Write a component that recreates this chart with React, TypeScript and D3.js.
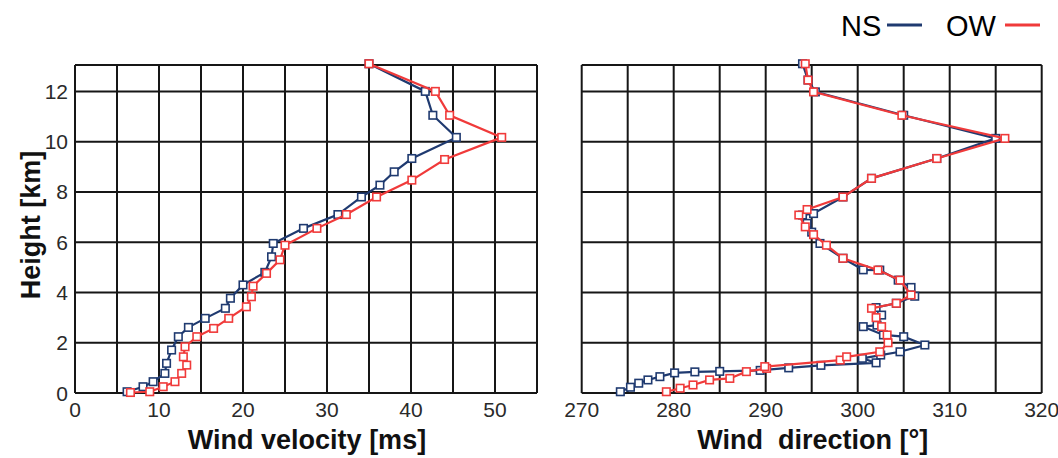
import React, { useEffect, useRef } from "react";
import * as d3 from "d3";

// profile readings: height [km] with the value at that height
const nsVelHeight = [0.05, 0.25, 0.45, 0.78, 1.18, 1.71, 2.24, 2.61, 2.97, 3.37, 3.77, 4.3, 4.8, 5.42, 5.95, 6.55, 7.1, 7.8, 8.27, 8.8, 9.33, 10.17, 11.05, 12.0, 13.1];
const nsVelocity = [6.2, 8.1, 9.3, 10.7, 10.9, 11.5, 12.3, 13.5, 15.5, 17.9, 18.5, 20.0, 22.6, 23.4, 23.6, 27.2, 31.3, 34.1, 36.3, 38.0, 40.1, 45.4, 42.6, 41.7, 35.0];

const owVelHeight = [0.02, 0.05, 0.25, 0.45, 0.78, 1.11, 1.44, 1.84, 2.24, 2.57, 2.97, 3.43, 3.83, 4.25, 4.76, 5.3, 5.88, 6.55, 7.1, 7.8, 8.47, 9.29, 10.17, 11.05, 12.0, 13.1];
const owVelocity = [6.6, 8.9, 10.5, 11.9, 12.7, 13.3, 12.9, 13.1, 14.5, 16.5, 18.3, 20.4, 21.0, 21.2, 22.8, 24.4, 25.0, 28.8, 32.3, 35.9, 40.1, 44.0, 50.8, 44.6, 42.9, 35.0];

const nsDirHeight = [0.05, 0.23, 0.39, 0.52, 0.65, 0.8, 0.84, 0.86, 0.9, 1.0, 1.1, 1.2, 1.38, 1.51, 1.64, 1.91, 2.24, 2.31, 2.64, 2.7, 3.1, 3.4, 3.57, 3.85, 4.2, 4.49, 4.89, 4.9, 5.36, 5.95, 6.4, 6.75, 7.08, 7.14, 7.8, 8.54, 9.33, 10.13, 11.05, 11.98, 12.45, 13.1];
const nsDirection = [274.2, 275.3, 276.2, 277.2, 278.5, 280.1, 282.3, 285.0, 289.4, 292.5, 296.0, 302.0, 300.5, 302.5, 304.6, 307.3, 305.0, 302.8, 300.6, 302.1, 302.6, 302.0, 304.2, 306.2, 305.8, 304.4, 302.4, 300.6, 298.4, 295.9, 295.0, 294.5, 294.0, 295.2, 298.4, 301.5, 308.6, 315.0, 305.0, 295.4, 294.6, 294.0];

const owDirHeight = [0.05, 0.19, 0.32, 0.52, 0.58, 0.85, 0.98, 1.05, 1.31, 1.44, 1.64, 2.0, 2.31, 2.64, 3.0, 3.37, 3.57, 3.9, 4.49, 4.89, 5.36, 5.88, 6.3, 6.61, 7.08, 7.3, 7.8, 8.54, 9.33, 10.13, 11.05, 11.98, 12.45, 13.1];
const owDirection = [279.2, 280.7, 282.1, 283.9, 286.1, 287.9, 290.1, 289.9, 298.1, 298.8, 302.4, 303.3, 303.2, 302.6, 302.0, 301.5, 304.2, 305.8, 304.6, 302.2, 298.4, 296.6, 295.2, 294.3, 293.6, 294.5, 298.4, 301.5, 308.6, 316.0, 304.8, 295.2, 294.6, 294.3];

const velTicks = [0, 10, 20, 30, 40, 50];
const dirTicks = [270, 280, 290, 300, 310, 320];
const heightTicks = [0, 2, 4, 6, 8, 10, 12];

const NS_COLOR = "#1f3a70";
const OW_COLOR = "#f03a3a";
const FONT = "'Liberation Sans', Arial, sans-serif";

const App = () => {
  const svgRef = useRef<SVGSVGElement>(null);

  useEffect(() => {
    const width = 1058,
      height = 458;
    const top = 65,
      bottom = 393;

    const svg = d3.select(svgRef.current);
    svg.selectAll("*").remove();
    svg.attr("width", width).attr("height", height);

    const yScale = d3.scaleLinear().domain([0, 13.05]).range([bottom, top]);

    const drawPanel = (
      xScale: d3.ScaleLinear<number, number>,
      ticks: number[],
      showY: boolean,
      series: { h: number[]; v: number[]; color: string }[],
      title: string
    ) => {
      const [x0, x1] = xScale.range();
      const [d0, d1] = xScale.domain();
      const g = svg.append("g");

      // grid (every 5 units / 2 km) and frame
      const grid = g.append("g").attr("stroke", "#161616").attr("stroke-width", 2);
      d3.range(d0, d1 + 0.1, 5).forEach((d) => {
        grid.append("line").attr("x1", xScale(d)).attr("x2", xScale(d)).attr("y1", top).attr("y2", bottom);
      });
      heightTicks.forEach((h) => {
        grid.append("line").attr("x1", x0).attr("x2", x1).attr("y1", yScale(h)).attr("y2", yScale(h));
      });
      grid.append("line").attr("x1", x0).attr("x2", x1).attr("y1", top).attr("y2", top);

      // x tick labels
      g.selectAll(".xt")
        .data(ticks)
        .enter()
        .append("text")
        .attr("x", (d) => xScale(d))
        .attr("y", 417)
        .attr("text-anchor", "middle")
        .attr("font-family", FONT)
        .attr("font-size", 21)
        .attr("fill", "#2a2a2a")
        .text((d) => d);

      if (showY) {
        g.selectAll(".yt")
          .data(heightTicks)
          .enter()
          .append("text")
          .attr("x", 68)
          .attr("y", (d) => yScale(d) + 7.5)
          .attr("text-anchor", "end")
          .attr("font-family", FONT)
          .attr("font-size", 21)
          .attr("fill", "#2a2a2a")
          .text((d) => d);
      }

      g.append("text")
        .attr("x", (x0 + x1) / 2 + 1)
        .attr("y", 449)
        .attr("text-anchor", "middle")
        .attr("font-family", FONT)
        .attr("font-size", 27)
        .attr("font-weight", "bold")
        .attr("fill", "#111")
        .style("white-space", "pre")
        .text(title);

      // profiles
      series.forEach((s) => {
        const pts = s.h.map((h, i) => [s.v[i], h] as [number, number]);
        const line = d3
          .line<[number, number]>()
          .x((d) => xScale(d[0]))
          .y((d) => yScale(d[1]));
        g.append("path")
          .attr("d", line(pts))
          .attr("fill", "none")
          .attr("stroke", s.color)
          .attr("stroke-width", 2.2);
        g.selectAll(null)
          .data(pts)
          .enter()
          .append("rect")
          .attr("x", (d) => xScale(d[0]) - 3.75)
          .attr("y", (d) => yScale(d[1]) - 3.75)
          .attr("width", 7.5)
          .attr("height", 7.5)
          .attr("fill", "white")
          .attr("stroke", s.color)
          .attr("stroke-width", 1.6);
      });
    };

    const velScale = d3.scaleLinear().domain([0, 55]).range([75, 537]);
    const dirScale = d3.scaleLinear().domain([270, 320]).range([581.7, 1041.7]);

    drawPanel(
      velScale,
      velTicks,
      true,
      [
        { h: nsVelHeight, v: nsVelocity, color: NS_COLOR },
        { h: owVelHeight, v: owVelocity, color: OW_COLOR },
      ],
      "Wind velocity [ms]"
    );
    drawPanel(
      dirScale,
      dirTicks,
      false,
      [
        { h: nsDirHeight, v: nsDirection, color: NS_COLOR },
        { h: owDirHeight, v: owDirection, color: OW_COLOR },
      ],
      "Wind  direction [°]"
    );

    // y title
    svg
      .append("text")
      .attr("transform", "translate(40, 225) rotate(-90)")
      .attr("text-anchor", "middle")
      .attr("font-family", FONT)
      .attr("font-size", 27)
      .attr("font-weight", "bold")
      .attr("fill", "#111")
      .text("Height [km]");

    // legend
    const legend = [
      { name: "NS", color: NS_COLOR, tx: 841, lx: 887 },
      { name: "OW", color: OW_COLOR, tx: 946, lx: 1005 },
    ];
    legend.forEach((l) => {
      svg
        .append("text")
        .attr("x", l.tx)
        .attr("y", 36)
        .attr("font-family", FONT)
        .attr("font-size", 29)
        .attr("fill", "#000")
        .text(l.name);
      svg
        .append("line")
        .attr("x1", l.lx)
        .attr("x2", l.lx + 35)
        .attr("y1", 25)
        .attr("y2", 25)
        .attr("stroke", l.color)
        .attr("stroke-width", 3);
    });
  }, []);

  return (
    <svg
      ref={svgRef}
      style={{ position: "absolute", left: 0, top: 0, background: "white" }}
    ></svg>
  );
};

export default App;
